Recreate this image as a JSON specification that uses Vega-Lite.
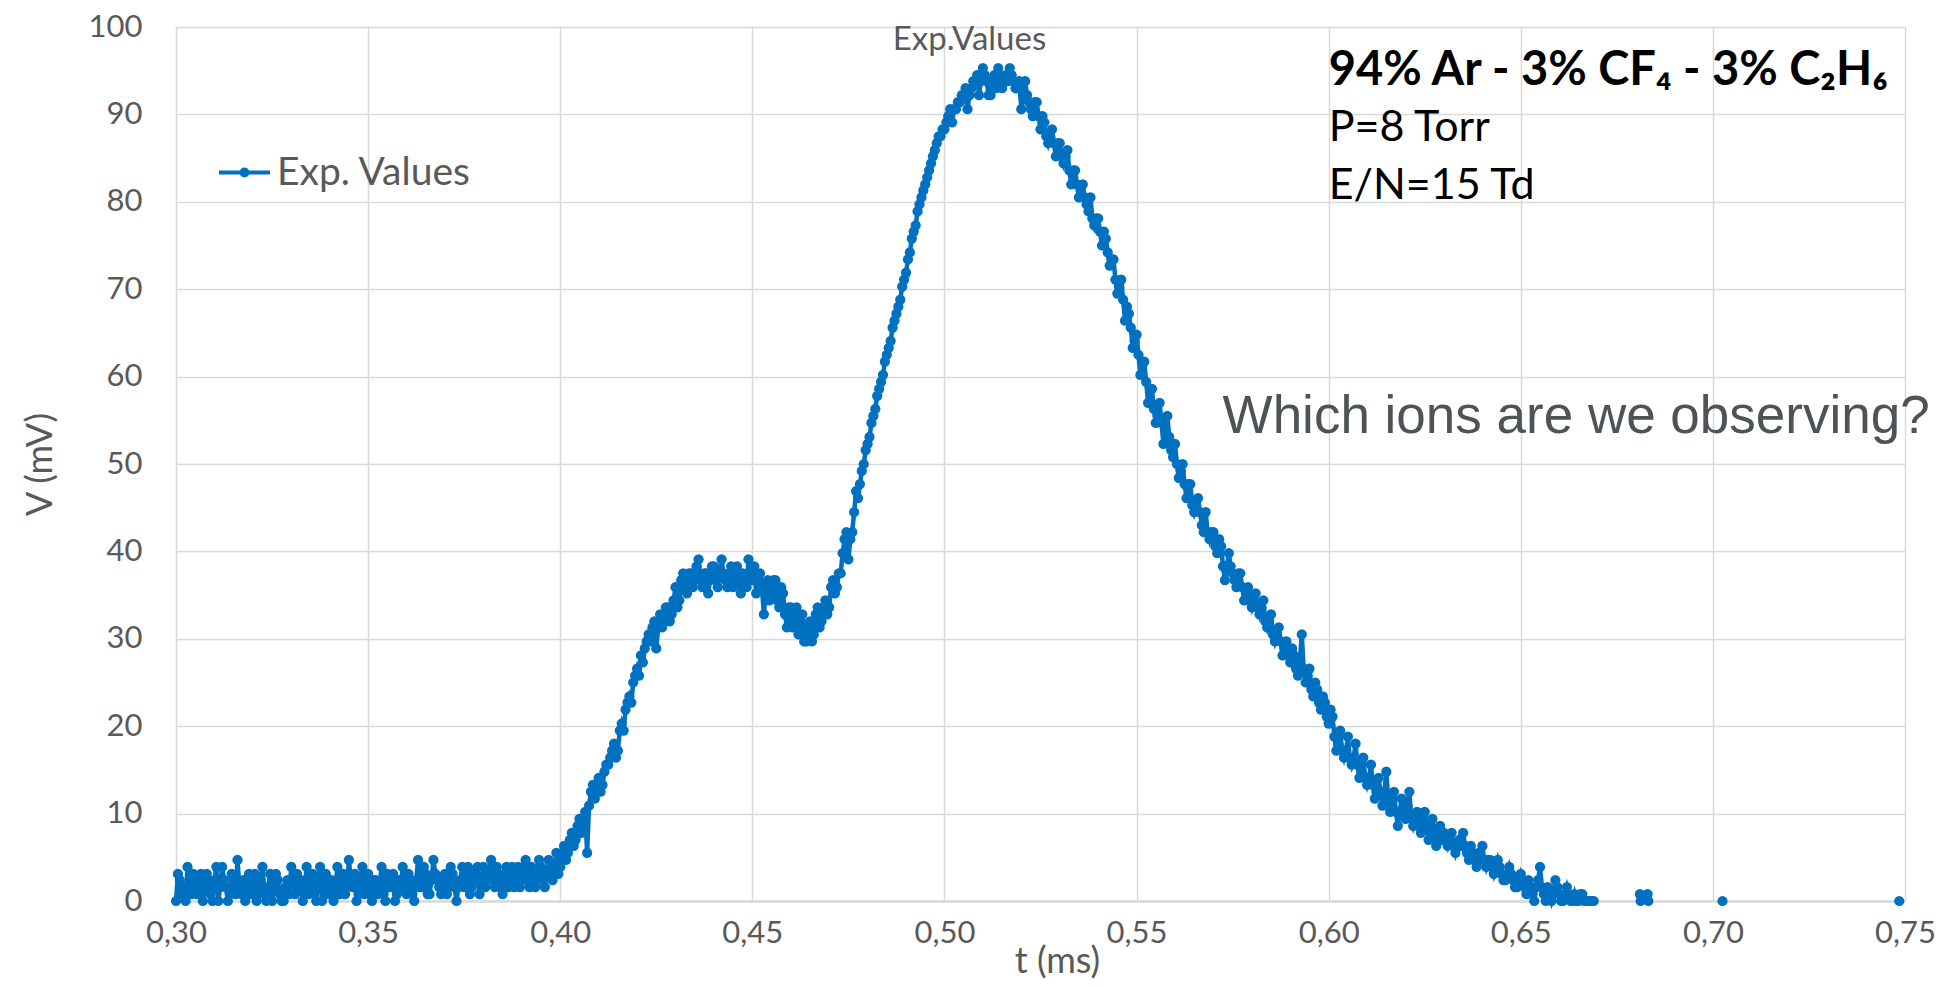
{
  "$schema": "https://vega.github.io/schema/vega-lite/v6.json",
  "width": 1729,
  "height": 874,
  "autosize": {"type": "none"},
  "padding": {"left": 176, "top": 27, "right": 41, "bottom": 86},
  "background": "white",
  "config": {"view": {"stroke": null}, "font": "Lato"},
  "data": {"values": [
    {"t":0.3000,"v":0},{"t":0.3005,"v":3.1},{"t":0.3010,"v":2.4},{"t":0.3015,"v":0.8},{"t":0.3020,"v":1.6},{"t":0.3025,"v":0},{"t":0.3030,"v":3.9},{"t":0.3035,"v":1.6},{"t":0.3040,"v":0.8},{"t":0.3045,"v":3.1},
    {"t":0.3050,"v":2.4},{"t":0.3055,"v":0.8},{"t":0.3060,"v":1.6},{"t":0.3065,"v":3.1},{"t":0.3070,"v":0},{"t":0.3075,"v":1.6},{"t":0.3080,"v":3.1},{"t":0.3085,"v":2.4},{"t":0.3090,"v":0.8},{"t":0.3095,"v":0},
    {"t":0.3100,"v":2.4},{"t":0.3105,"v":3.9},{"t":0.3110,"v":0},{"t":0.3115,"v":1.6},{"t":0.3120,"v":3.9},{"t":0.3125,"v":2.4},{"t":0.3130,"v":1.6},{"t":0.3135,"v":0},{"t":0.3140,"v":0.8},{"t":0.3145,"v":3.1},
    {"t":0.3150,"v":2.4},{"t":0.3155,"v":0.8},{"t":0.3160,"v":4.7},{"t":0.3165,"v":1.6},{"t":0.3170,"v":0.8},{"t":0.3175,"v":2.4},{"t":0.3180,"v":0},{"t":0.3185,"v":1.6},{"t":0.3190,"v":3.1},{"t":0.3195,"v":0.8},
    {"t":0.3200,"v":1.6},{"t":0.3205,"v":3.1},{"t":0.3210,"v":0},{"t":0.3215,"v":0.8},{"t":0.3220,"v":2.4},{"t":0.3225,"v":3.9},{"t":0.3230,"v":0.8},{"t":0.3235,"v":0},{"t":0.3240,"v":1.6},{"t":0.3245,"v":3.1},
    {"t":0.3250,"v":0},{"t":0.3255,"v":1.6},{"t":0.3260,"v":3.1},{"t":0.3265,"v":2.4},{"t":0.3270,"v":0.8},{"t":0.3275,"v":0},{"t":0.3280,"v":0},{"t":0.3285,"v":1.6},{"t":0.3290,"v":2.4},{"t":0.3295,"v":0.8},
    {"t":0.3300,"v":3.9},{"t":0.3305,"v":2.4},{"t":0.3310,"v":0.8},{"t":0.3315,"v":3.1},{"t":0.3320,"v":1.6},{"t":0.3325,"v":2.4},{"t":0.3330,"v":0},{"t":0.3335,"v":1.6},{"t":0.3340,"v":3.9},{"t":0.3345,"v":0.8},
    {"t":0.3350,"v":1.6},{"t":0.3355,"v":3.1},{"t":0.3360,"v":0.8},{"t":0.3365,"v":0},{"t":0.3370,"v":2.4},{"t":0.3375,"v":3.9},{"t":0.3380,"v":0},{"t":0.3385,"v":1.6},{"t":0.3390,"v":3.1},{"t":0.3395,"v":0.8},
    {"t":0.3400,"v":1.6},{"t":0.3405,"v":2.4},{"t":0.3410,"v":0},{"t":0.3415,"v":1.6},{"t":0.3420,"v":3.9},{"t":0.3425,"v":0.8},{"t":0.3430,"v":2.4},{"t":0.3435,"v":3.1},{"t":0.3440,"v":0.8},{"t":0.3445,"v":1.6},
    {"t":0.3450,"v":4.7},{"t":0.3455,"v":2.4},{"t":0.3460,"v":1.6},{"t":0.3465,"v":3.1},{"t":0.3470,"v":0},{"t":0.3475,"v":0.8},{"t":0.3480,"v":2.4},{"t":0.3485,"v":3.9},{"t":0.3490,"v":0.8},{"t":0.3495,"v":1.6},
    {"t":0.3500,"v":3.1},{"t":0.3505,"v":0.8},{"t":0.3510,"v":0},{"t":0.3515,"v":2.4},{"t":0.3520,"v":2.4},{"t":0.3525,"v":0.8},{"t":0.3530,"v":1.6},{"t":0.3535,"v":3.9},{"t":0.3540,"v":0.8},{"t":0.3545,"v":0},
    {"t":0.3550,"v":3.1},{"t":0.3555,"v":1.6},{"t":0.3560,"v":1.6},{"t":0.3565,"v":3.1},{"t":0.3570,"v":0},{"t":0.3575,"v":0.8},{"t":0.3580,"v":2.4},{"t":0.3585,"v":1.6},{"t":0.3590,"v":3.9},{"t":0.3595,"v":2.4},
    {"t":0.3600,"v":0.8},{"t":0.3605,"v":3.1},{"t":0.3610,"v":2.4},{"t":0.3615,"v":0.8},{"t":0.3620,"v":0},{"t":0.3625,"v":2.4},{"t":0.3630,"v":4.7},{"t":0.3635,"v":1.6},{"t":0.3640,"v":1.6},{"t":0.3645,"v":3.9},
    {"t":0.3650,"v":3.1},{"t":0.3655,"v":0.8},{"t":0.3660,"v":0.8},{"t":0.3665,"v":2.4},{"t":0.3670,"v":4.7},{"t":0.3675,"v":3.1},{"t":0.3680,"v":2.4},{"t":0.3685,"v":1.6},{"t":0.3690,"v":0.8},{"t":0.3695,"v":2.4},
    {"t":0.3700,"v":3.1},{"t":0.3705,"v":0.8},{"t":0.3710,"v":1.6},{"t":0.3715,"v":3.9},{"t":0.3720,"v":3.1},{"t":0.3725,"v":1.6},{"t":0.3730,"v":0},{"t":0.3735,"v":1.6},{"t":0.3740,"v":2.4},{"t":0.3745,"v":3.9},
    {"t":0.3750,"v":1.6},{"t":0.3755,"v":2.4},{"t":0.3760,"v":3.9},{"t":0.3765,"v":0.8},{"t":0.3770,"v":1.6},{"t":0.3775,"v":3.1},{"t":0.3780,"v":2.4},{"t":0.3785,"v":3.9},{"t":0.3790,"v":0.8},{"t":0.3795,"v":2.4},
    {"t":0.3800,"v":3.9},{"t":0.3805,"v":1.6},{"t":0.3810,"v":2.4},{"t":0.3815,"v":3.1},{"t":0.3820,"v":4.7},{"t":0.3825,"v":2.4},{"t":0.3830,"v":1.6},{"t":0.3835,"v":3.9},{"t":0.3840,"v":3.1},{"t":0.3845,"v":1.6},
    {"t":0.3850,"v":0.8},{"t":0.3855,"v":3.1},{"t":0.3860,"v":3.9},{"t":0.3865,"v":1.6},{"t":0.3870,"v":2.4},{"t":0.3875,"v":3.9},{"t":0.3880,"v":1.6},{"t":0.3885,"v":3.1},{"t":0.3890,"v":3.9},{"t":0.3895,"v":1.6},
    {"t":0.3900,"v":2.4},{"t":0.3905,"v":3.9},{"t":0.3910,"v":4.7},{"t":0.3915,"v":2.4},{"t":0.3920,"v":1.6},{"t":0.3925,"v":3.9},{"t":0.3930,"v":3.1},{"t":0.3935,"v":1.6},{"t":0.3940,"v":2.4},{"t":0.3945,"v":4.7},
    {"t":0.3950,"v":3.9},{"t":0.3955,"v":2.4},{"t":0.3960,"v":1.6},{"t":0.3965,"v":3.1},{"t":0.3970,"v":4.7},{"t":0.3975,"v":3.9},{"t":0.3980,"v":2.4},{"t":0.3985,"v":3.9},{"t":0.3990,"v":5.5},{"t":0.3995,"v":3.1},
    {"t":0.4000,"v":3.9},{"t":0.4005,"v":5.5},{"t":0.4010,"v":6.3},{"t":0.4015,"v":4.7},{"t":0.4020,"v":5.5},{"t":0.4025,"v":7.0},{"t":0.4030,"v":7.8},{"t":0.4035,"v":6.3},{"t":0.4040,"v":7.0},{"t":0.4045,"v":8.6},
    {"t":0.4050,"v":9.4},{"t":0.4055,"v":7.8},{"t":0.4060,"v":8.6},{"t":0.4065,"v":10.2},{"t":0.4070,"v":5.5},{"t":0.4075,"v":10.9},{"t":0.4080,"v":12.5},{"t":0.4085,"v":13.3},{"t":0.4090,"v":11.7},{"t":0.4095,"v":12.5},
    {"t":0.4100,"v":14.1},{"t":0.4105,"v":12.5},{"t":0.4110,"v":13.3},{"t":0.4115,"v":14.8},{"t":0.4120,"v":15.6},{"t":0.4125,"v":15.6},{"t":0.4130,"v":16.4},{"t":0.4135,"v":17.2},{"t":0.4140,"v":18.0},{"t":0.4145,"v":16.4},
    {"t":0.4150,"v":17.2},{"t":0.4155,"v":19.5},{"t":0.4160,"v":20.3},{"t":0.4165,"v":19.5},{"t":0.4170,"v":21.9},{"t":0.4175,"v":22.7},{"t":0.4180,"v":23.4},{"t":0.4185,"v":22.7},{"t":0.4190,"v":25.0},{"t":0.4195,"v":25.8},
    {"t":0.4200,"v":26.6},{"t":0.4205,"v":25.8},{"t":0.4210,"v":28.1},{"t":0.4215,"v":27.3},{"t":0.4220,"v":28.9},{"t":0.4225,"v":29.7},{"t":0.4230,"v":30.5},{"t":0.4235,"v":29.7},{"t":0.4240,"v":31.3},{"t":0.4245,"v":32.0},
    {"t":0.4250,"v":28.9},{"t":0.4255,"v":31.3},{"t":0.4260,"v":32.8},{"t":0.4265,"v":31.3},{"t":0.4270,"v":32.0},{"t":0.4275,"v":33.6},{"t":0.4280,"v":33.6},{"t":0.4285,"v":32.0},{"t":0.4290,"v":32.8},{"t":0.4295,"v":34.4},
    {"t":0.4300,"v":35.9},{"t":0.4305,"v":33.6},{"t":0.4310,"v":34.4},{"t":0.4315,"v":36.7},{"t":0.4320,"v":37.5},{"t":0.4325,"v":35.9},{"t":0.4330,"v":35.2},{"t":0.4335,"v":37.5},{"t":0.4340,"v":37.5},{"t":0.4345,"v":35.9},
    {"t":0.4350,"v":36.7},{"t":0.4355,"v":38.3},{"t":0.4360,"v":39.1},{"t":0.4365,"v":36.7},{"t":0.4370,"v":35.9},{"t":0.4375,"v":37.5},{"t":0.4380,"v":37.5},{"t":0.4385,"v":35.2},{"t":0.4390,"v":36.7},{"t":0.4395,"v":38.3},
    {"t":0.4400,"v":38.3},{"t":0.4405,"v":36.7},{"t":0.4410,"v":35.9},{"t":0.4415,"v":37.5},{"t":0.4420,"v":39.1},{"t":0.4425,"v":37.5},{"t":0.4430,"v":36.7},{"t":0.4435,"v":35.9},{"t":0.4440,"v":37.5},{"t":0.4445,"v":38.3},
    {"t":0.4450,"v":35.9},{"t":0.4455,"v":36.7},{"t":0.4460,"v":38.3},{"t":0.4465,"v":36.7},{"t":0.4470,"v":35.2},{"t":0.4475,"v":37.5},{"t":0.4480,"v":36.7},{"t":0.4485,"v":35.9},{"t":0.4490,"v":39.1},{"t":0.4495,"v":37.5},
    {"t":0.4500,"v":36.7},{"t":0.4505,"v":38.3},{"t":0.4510,"v":35.2},{"t":0.4515,"v":36.7},{"t":0.4520,"v":37.5},{"t":0.4525,"v":35.9},{"t":0.4530,"v":32.8},{"t":0.4535,"v":35.2},{"t":0.4540,"v":36.7},{"t":0.4545,"v":34.4},
    {"t":0.4550,"v":35.2},{"t":0.4555,"v":36.7},{"t":0.4560,"v":36.7},{"t":0.4565,"v":34.4},{"t":0.4570,"v":33.6},{"t":0.4575,"v":35.9},{"t":0.4580,"v":35.2},{"t":0.4585,"v":32.8},{"t":0.4590,"v":31.3},{"t":0.4595,"v":33.6},
    {"t":0.4600,"v":33.6},{"t":0.4605,"v":31.3},{"t":0.4610,"v":32.0},{"t":0.4615,"v":33.6},{"t":0.4620,"v":30.5},{"t":0.4625,"v":31.3},{"t":0.4630,"v":32.8},{"t":0.4635,"v":29.7},{"t":0.4640,"v":29.7},{"t":0.4645,"v":31.3},
    {"t":0.4650,"v":32.0},{"t":0.4655,"v":29.7},{"t":0.4660,"v":30.5},{"t":0.4665,"v":32.8},{"t":0.4670,"v":33.6},{"t":0.4675,"v":31.3},{"t":0.4680,"v":32.0},{"t":0.4685,"v":33.6},{"t":0.4690,"v":34.4},{"t":0.4695,"v":32.8},
    {"t":0.4700,"v":33.6},{"t":0.4705,"v":35.9},{"t":0.4710,"v":36.7},{"t":0.4715,"v":35.2},{"t":0.4720,"v":35.9},{"t":0.4725,"v":37.5},{"t":0.4730,"v":37.5},{"t":0.4735,"v":39.8},{"t":0.4740,"v":41.4},{"t":0.4745,"v":42.2},
    {"t":0.4750,"v":39.1},{"t":0.4755,"v":41.4},{"t":0.4760,"v":42.2},{"t":0.4765,"v":44.5},{"t":0.4770,"v":46.9},{"t":0.4775,"v":46.1},{"t":0.4780,"v":47.7},{"t":0.4785,"v":49.2},{"t":0.4790,"v":50.0},{"t":0.4795,"v":51.6},
    {"t":0.4800,"v":52.3},{"t":0.4805,"v":53.1},{"t":0.4810,"v":54.7},{"t":0.4815,"v":55.5},{"t":0.4820,"v":56.3},{"t":0.4825,"v":57.8},{"t":0.4830,"v":58.6},{"t":0.4835,"v":59.4},{"t":0.4840,"v":60.2},{"t":0.4845,"v":61.7},
    {"t":0.4850,"v":62.5},{"t":0.4855,"v":63.3},{"t":0.4860,"v":64.1},{"t":0.4865,"v":65.6},{"t":0.4870,"v":66.4},{"t":0.4875,"v":67.2},{"t":0.4880,"v":68.0},{"t":0.4885,"v":68.8},{"t":0.4890,"v":70.3},{"t":0.4895,"v":71.1},
    {"t":0.4900,"v":71.9},{"t":0.4905,"v":73.4},{"t":0.4910,"v":74.2},{"t":0.4915,"v":75.8},{"t":0.4920,"v":76.6},{"t":0.4925,"v":77.3},{"t":0.4930,"v":78.9},{"t":0.4935,"v":79.7},{"t":0.4940,"v":80.5},{"t":0.4945,"v":81.3},
    {"t":0.4950,"v":82.0},{"t":0.4955,"v":82.8},{"t":0.4960,"v":83.6},{"t":0.4965,"v":84.4},{"t":0.4970,"v":85.2},{"t":0.4975,"v":85.9},{"t":0.4980,"v":86.7},{"t":0.4985,"v":87.5},{"t":0.4990,"v":87.5},{"t":0.4995,"v":88.3},
    {"t":0.5000,"v":88.3},{"t":0.5005,"v":89.1},{"t":0.5010,"v":89.8},{"t":0.5015,"v":90.6},{"t":0.5020,"v":89.1},{"t":0.5025,"v":90.6},{"t":0.5030,"v":90.6},{"t":0.5035,"v":91.4},{"t":0.5040,"v":91.4},{"t":0.5045,"v":92.2},
    {"t":0.5050,"v":92.2},{"t":0.5055,"v":93.0},{"t":0.5060,"v":90.6},{"t":0.5065,"v":92.2},{"t":0.5070,"v":93.0},{"t":0.5075,"v":93.8},{"t":0.5080,"v":93.8},{"t":0.5085,"v":94.5},{"t":0.5090,"v":92.2},{"t":0.5095,"v":93.8},
    {"t":0.5100,"v":95.3},{"t":0.5105,"v":94.5},{"t":0.5110,"v":93.8},{"t":0.5115,"v":92.2},{"t":0.5120,"v":92.2},{"t":0.5125,"v":93.8},{"t":0.5130,"v":94.5},{"t":0.5135,"v":93.0},{"t":0.5140,"v":95.3},{"t":0.5145,"v":94.5},
    {"t":0.5150,"v":93.0},{"t":0.5155,"v":93.8},{"t":0.5160,"v":94.5},{"t":0.5165,"v":93.8},{"t":0.5170,"v":95.3},{"t":0.5175,"v":94.5},{"t":0.5180,"v":93.8},{"t":0.5185,"v":93.0},{"t":0.5190,"v":93.0},{"t":0.5195,"v":93.8},
    {"t":0.5200,"v":90.6},{"t":0.5205,"v":92.2},{"t":0.5210,"v":93.8},{"t":0.5215,"v":92.2},{"t":0.5220,"v":91.4},{"t":0.5225,"v":90.6},{"t":0.5230,"v":89.8},{"t":0.5235,"v":91.4},{"t":0.5240,"v":91.4},{"t":0.5245,"v":89.8},
    {"t":0.5250,"v":88.3},{"t":0.5255,"v":89.8},{"t":0.5260,"v":89.1},{"t":0.5265,"v":87.5},{"t":0.5270,"v":86.7},{"t":0.5275,"v":87.5},{"t":0.5280,"v":88.3},{"t":0.5285,"v":86.7},{"t":0.5290,"v":85.2},{"t":0.5295,"v":86.7},
    {"t":0.5300,"v":86.7},{"t":0.5305,"v":85.2},{"t":0.5310,"v":84.4},{"t":0.5315,"v":85.2},{"t":0.5320,"v":85.9},{"t":0.5325,"v":83.6},{"t":0.5330,"v":82.0},{"t":0.5335,"v":83.6},{"t":0.5340,"v":83.6},{"t":0.5345,"v":82.0},
    {"t":0.5350,"v":80.5},{"t":0.5355,"v":81.3},{"t":0.5360,"v":82.0},{"t":0.5365,"v":80.5},{"t":0.5370,"v":79.7},{"t":0.5375,"v":78.9},{"t":0.5380,"v":80.5},{"t":0.5385,"v":78.1},{"t":0.5390,"v":77.3},{"t":0.5395,"v":78.1},
    {"t":0.5400,"v":78.1},{"t":0.5405,"v":76.6},{"t":0.5410,"v":75.0},{"t":0.5415,"v":76.6},{"t":0.5420,"v":75.8},{"t":0.5425,"v":74.2},{"t":0.5430,"v":72.7},{"t":0.5435,"v":73.4},{"t":0.5440,"v":73.4},{"t":0.5445,"v":71.1},
    {"t":0.5450,"v":69.5},{"t":0.5455,"v":70.3},{"t":0.5460,"v":71.1},{"t":0.5465,"v":68.8},{"t":0.5470,"v":66.4},{"t":0.5475,"v":68.0},{"t":0.5480,"v":67.2},{"t":0.5485,"v":65.6},{"t":0.5490,"v":63.3},{"t":0.5495,"v":64.1},
    {"t":0.5500,"v":64.8},{"t":0.5505,"v":62.5},{"t":0.5510,"v":60.2},{"t":0.5515,"v":61.7},{"t":0.5520,"v":61.7},{"t":0.5525,"v":59.4},{"t":0.5530,"v":57.0},{"t":0.5535,"v":58.6},{"t":0.5540,"v":58.6},{"t":0.5545,"v":56.3},
    {"t":0.5550,"v":54.7},{"t":0.5555,"v":55.5},{"t":0.5560,"v":57.0},{"t":0.5565,"v":54.7},{"t":0.5570,"v":52.3},{"t":0.5575,"v":53.9},{"t":0.5580,"v":55.5},{"t":0.5585,"v":53.1},{"t":0.5590,"v":51.6},{"t":0.5595,"v":50.8},
    {"t":0.5600,"v":52.3},{"t":0.5605,"v":50.0},{"t":0.5610,"v":48.4},{"t":0.5615,"v":49.2},{"t":0.5620,"v":50.0},{"t":0.5625,"v":47.7},{"t":0.5630,"v":46.1},{"t":0.5635,"v":47.7},{"t":0.5640,"v":47.7},{"t":0.5645,"v":45.3},
    {"t":0.5650,"v":44.5},{"t":0.5655,"v":45.3},{"t":0.5660,"v":46.1},{"t":0.5665,"v":44.5},{"t":0.5670,"v":43.0},{"t":0.5675,"v":42.2},{"t":0.5680,"v":44.5},{"t":0.5685,"v":42.2},{"t":0.5690,"v":41.4},{"t":0.5695,"v":42.2},
    {"t":0.5700,"v":42.2},{"t":0.5705,"v":40.6},{"t":0.5710,"v":39.8},{"t":0.5715,"v":41.4},{"t":0.5720,"v":40.6},{"t":0.5725,"v":38.3},{"t":0.5730,"v":36.7},{"t":0.5735,"v":38.3},{"t":0.5740,"v":39.8},{"t":0.5745,"v":38.3},
    {"t":0.5750,"v":37.5},{"t":0.5755,"v":36.7},{"t":0.5760,"v":35.9},{"t":0.5765,"v":37.5},{"t":0.5770,"v":37.5},{"t":0.5775,"v":35.9},{"t":0.5780,"v":34.4},{"t":0.5785,"v":35.2},{"t":0.5790,"v":35.9},{"t":0.5795,"v":34.4},
    {"t":0.5800,"v":33.6},{"t":0.5805,"v":34.4},{"t":0.5810,"v":35.2},{"t":0.5815,"v":33.6},{"t":0.5820,"v":32.8},{"t":0.5825,"v":33.6},{"t":0.5830,"v":34.4},{"t":0.5835,"v":32.0},{"t":0.5840,"v":31.3},{"t":0.5845,"v":32.0},
    {"t":0.5850,"v":32.8},{"t":0.5855,"v":30.5},{"t":0.5860,"v":29.7},{"t":0.5865,"v":30.5},{"t":0.5870,"v":31.3},{"t":0.5875,"v":29.7},{"t":0.5880,"v":28.1},{"t":0.5885,"v":28.9},{"t":0.5890,"v":29.7},{"t":0.5895,"v":28.1},
    {"t":0.5900,"v":27.3},{"t":0.5905,"v":28.9},{"t":0.5910,"v":28.1},{"t":0.5915,"v":26.6},{"t":0.5920,"v":25.8},{"t":0.5925,"v":27.3},{"t":0.5930,"v":30.5},{"t":0.5935,"v":26.6},{"t":0.5940,"v":25.0},{"t":0.5945,"v":25.8},
    {"t":0.5950,"v":26.6},{"t":0.5955,"v":24.2},{"t":0.5960,"v":23.4},{"t":0.5965,"v":25.0},{"t":0.5970,"v":24.2},{"t":0.5975,"v":22.7},{"t":0.5980,"v":21.9},{"t":0.5985,"v":23.4},{"t":0.5990,"v":22.7},{"t":0.5995,"v":21.1},
    {"t":0.6000,"v":20.3},{"t":0.6005,"v":21.9},{"t":0.6010,"v":21.1},{"t":0.6015,"v":18.8},{"t":0.6020,"v":17.2},{"t":0.6025,"v":18.0},{"t":0.6030,"v":19.5},{"t":0.6035,"v":17.2},{"t":0.6040,"v":16.4},{"t":0.6045,"v":17.2},
    {"t":0.6050,"v":18.8},{"t":0.6055,"v":16.4},{"t":0.6060,"v":15.6},{"t":0.6065,"v":16.4},{"t":0.6070,"v":18.0},{"t":0.6075,"v":15.6},{"t":0.6080,"v":14.1},{"t":0.6085,"v":14.8},{"t":0.6090,"v":16.4},{"t":0.6095,"v":14.1},
    {"t":0.6100,"v":13.3},{"t":0.6105,"v":14.1},{"t":0.6110,"v":15.6},{"t":0.6115,"v":13.3},{"t":0.6120,"v":11.7},{"t":0.6125,"v":12.5},{"t":0.6130,"v":14.1},{"t":0.6135,"v":12.5},{"t":0.6140,"v":10.9},{"t":0.6145,"v":12.5},
    {"t":0.6150,"v":14.8},{"t":0.6155,"v":11.7},{"t":0.6160,"v":10.2},{"t":0.6165,"v":11.7},{"t":0.6170,"v":12.5},{"t":0.6175,"v":10.2},{"t":0.6180,"v":8.6},{"t":0.6185,"v":10.2},{"t":0.6190,"v":11.7},{"t":0.6195,"v":10.2},
    {"t":0.6200,"v":9.4},{"t":0.6205,"v":10.9},{"t":0.6210,"v":12.5},{"t":0.6215,"v":9.4},{"t":0.6220,"v":8.6},{"t":0.6225,"v":9.4},{"t":0.6230,"v":10.2},{"t":0.6235,"v":8.6},{"t":0.6240,"v":7.8},{"t":0.6245,"v":9.4},
    {"t":0.6250,"v":10.2},{"t":0.6255,"v":8.6},{"t":0.6260,"v":7.0},{"t":0.6265,"v":7.8},{"t":0.6270,"v":9.4},{"t":0.6275,"v":7.8},{"t":0.6280,"v":6.3},{"t":0.6285,"v":7.0},{"t":0.6290,"v":8.6},{"t":0.6295,"v":7.0},
    {"t":0.6300,"v":7.8},{"t":0.6305,"v":7.0},{"t":0.6310,"v":6.3},{"t":0.6315,"v":7.0},{"t":0.6320,"v":7.8},{"t":0.6325,"v":6.3},{"t":0.6330,"v":5.5},{"t":0.6335,"v":6.3},{"t":0.6340,"v":7.0},{"t":0.6345,"v":6.3},
    {"t":0.6350,"v":7.8},{"t":0.6355,"v":6.3},{"t":0.6360,"v":5.5},{"t":0.6365,"v":4.7},{"t":0.6370,"v":6.3},{"t":0.6375,"v":5.5},{"t":0.6380,"v":4.7},{"t":0.6385,"v":3.9},{"t":0.6390,"v":5.5},{"t":0.6395,"v":4.7},
    {"t":0.6400,"v":6.3},{"t":0.6405,"v":4.7},{"t":0.6410,"v":3.9},{"t":0.6415,"v":4.7},{"t":0.6420,"v":4.7},{"t":0.6425,"v":3.9},{"t":0.6430,"v":3.1},{"t":0.6435,"v":3.9},{"t":0.6440,"v":4.7},{"t":0.6445,"v":3.9},
    {"t":0.6450,"v":3.1},{"t":0.6455,"v":2.4},{"t":0.6460,"v":2.4},{"t":0.6465,"v":3.1},{"t":0.6470,"v":3.9},{"t":0.6475,"v":3.1},{"t":0.6480,"v":2.4},{"t":0.6485,"v":1.6},{"t":0.6490,"v":1.6},{"t":0.6495,"v":2.4},
    {"t":0.6500,"v":3.1},{"t":0.6505,"v":2.4},{"t":0.6510,"v":1.6},{"t":0.6515,"v":0.8},{"t":0.6520,"v":2.4},{"t":0.6525,"v":1.6},{"t":0.6530,"v":0.8},{"t":0.6535,"v":0},{"t":0.6540,"v":1.6},{"t":0.6545,"v":2.4},
    {"t":0.6550,"v":3.9},{"t":0.6555,"v":1.6},{"t":0.6560,"v":0.8},{"t":0.6565,"v":0},{"t":0.6570,"v":1.6},{"t":0.6575,"v":0.8},{"t":0.6580,"v":0},{"t":0.6585,"v":0.8},{"t":0.6590,"v":2.4},{"t":0.6595,"v":1.6},
    {"t":0.6600,"v":0.8},{"t":0.6605,"v":0},{"t":0.6610,"v":0},{"t":0.6615,"v":0.8},{"t":0.6620,"v":1.6},{"t":0.6625,"v":0.8},{"t":0.6630,"v":0},{"t":0.6635,"v":0},{"t":0.6640,"v":0.8},{"t":0.6645,"v":0},
    {"t":0.6650,"v":0},{"t":0.6655,"v":0.8},{"t":0.6660,"v":0.8},{"t":0.6665,"v":0},{"t":0.6670,"v":0},{"t":0.6675,"v":0},{"t":0.6680,"v":0},{"t":0.6685,"v":0},{"t":0.6690,"v":0},
    {"t":0.6810,"v":0.8},{"t":0.6812,"v":0},{"t":0.6830,"v":0.8},{"t":0.6832,"v":0},{"t":0.7025,"v":0},{"t":0.7485,"v":0}
  ]},
  "encoding": {
    "x": {
      "field": "t", "type": "quantitative",
      "scale": {"domain": [0.3, 0.75], "nice": false, "zero": false},
      "axis": {
        "values": [0.3, 0.35, 0.4, 0.45, 0.5, 0.55, 0.6, 0.65, 0.7, 0.75],
        "labelExpr": "replace(format(datum.value, '.2f'), '.', ',')",
        "grid": true, "gridColor": "#D9D9D9", "gridWidth": 1.5,
        "domain": true, "domainColor": "#D9D9D9", "domainWidth": 2.5,
        "ticks": false, "labelFlush": false, "labelOverlap": false,
        "labelFont": "Lato", "labelFontSize": 31, "labelColor": "#595959", "labelPadding": 17,
        "title": "t (ms)", "titleFont": "Lato", "titleFontSize": 36, "titleFontWeight": "normal",
        "titleColor": "#595959", "titleX": 881, "titleY": 60, "titleAlign": "center", "titleBaseline": "middle"
      }
    },
    "y": {
      "field": "v", "type": "quantitative",
      "scale": {"domain": [0, 100], "nice": false},
      "axis": {
        "values": [0, 10, 20, 30, 40, 50, 60, 70, 80, 90, 100],
        "grid": true, "gridColor": "#D9D9D9", "gridWidth": 1.5,
        "domain": false, "ticks": false,
        "labelFont": "Lato", "labelFontSize": 31, "labelColor": "#595959", "labelPadding": 34,
        "title": "V (mV)", "titleFont": "Lato", "titleFontSize": 36, "titleFontWeight": "normal",
        "titleColor": "#595959", "titleX": -136, "titleY": 437, "titleAngle": -90,
        "titleAlign": "center", "titleBaseline": "middle"
      }
    }
  },
  "layer": [
    {
      "transform": [{"filter": "datum.t < 0.675"}],
      "mark": {"type": "line", "strokeWidth": 4.5},
      "encoding": {
        "color": {
          "datum": "Exp. Values", "type": "nominal",
          "scale": {"range": ["#0070C0"]},
          "legend": {
            "orient": "none", "legendX": 41, "legendY": 118, "title": null, "padding": 0,
            "symbolType": "M-1,0H1M0.12,0A0.12,0.12,0,1,1,-0.12,0A0.12,0.12,0,1,1,0.12,0",
            "symbolSize": 2601, "symbolStrokeWidth": 4,
            "symbolStrokeColor": "#0070C0", "symbolFillColor": "#0070C0",
            "labelFont": "Lato", "labelFontSize": 39, "labelColor": "#595959", "labelOffset": 5, "labelLimit": 500,
            "encode": {"symbols": {"update": {"fill": {"value": "#0070C0"}, "stroke": {"value": "#0070C0"}, "strokeWidth": {"value": 4}}}}
          }
        }
      }
    },
    {
      "mark": {"type": "point", "filled": true, "size": 105, "opacity": 1},
      "encoding": {
        "color": {"datum": "Exp. Values", "type": "nominal"}
      }
    },
    {
      "transform": [{"filter": "datum.t == 0.3"}],
      "mark": {"type": "text", "text": "Exp.Values", "font": "Lato", "fontSize": 33, "fill": "#595959", "align": "center", "baseline": "middle"},
      "encoding": {
        "x": {"datum": 0.5065, "type": "quantitative"},
        "y": {"datum": 98.5, "type": "quantitative"}
      }
    },
    {
      "transform": [{"filter": "datum.t == 0.3"}],
      "mark": {"type": "text", "text": "94% Ar - 3% CF₄ - 3% C₂H₆", "font": "Lato", "fontSize": 47, "fontWeight": "bold", "fill": "#000000", "align": "left", "baseline": "middle"},
      "encoding": {
        "x": {"datum": 0.6, "type": "quantitative"},
        "y": {"datum": 95, "type": "quantitative"}
      }
    },
    {
      "transform": [{"filter": "datum.t == 0.3"}],
      "mark": {"type": "text", "text": "P=8 Torr", "font": "Lato", "fontSize": 43, "fill": "#000000", "align": "left", "baseline": "middle"},
      "encoding": {
        "x": {"datum": 0.6, "type": "quantitative"},
        "y": {"datum": 88.4, "type": "quantitative"}
      }
    },
    {
      "transform": [{"filter": "datum.t == 0.3"}],
      "mark": {"type": "text", "text": "E/N=15 Td", "font": "Lato", "fontSize": 43, "fill": "#000000", "align": "left", "baseline": "middle"},
      "encoding": {
        "x": {"datum": 0.6, "type": "quantitative"},
        "y": {"datum": 81.8, "type": "quantitative"}
      }
    },
    {
      "transform": [{"filter": "datum.t == 0.3"}],
      "mark": {"type": "text", "text": "Which ions are we observing?", "font": "Liberation Sans", "fontSize": 53, "fill": "#4D5356", "align": "left", "baseline": "middle"},
      "encoding": {
        "x": {"datum": 0.5724, "type": "quantitative"},
        "y": {"datum": 55.4, "type": "quantitative"}
      }
    }
  ]
}
